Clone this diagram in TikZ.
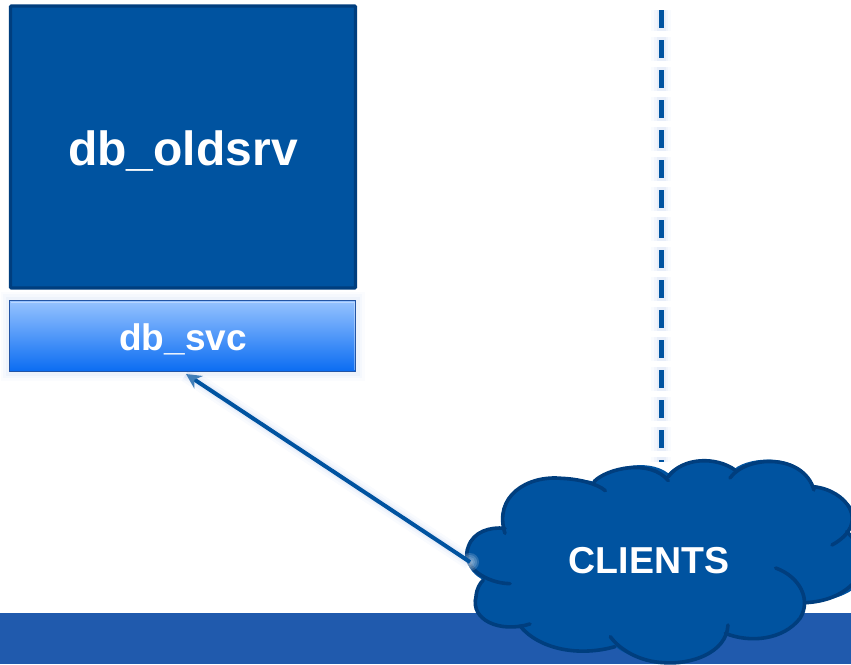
\documentclass[tikz,border=0pt]{standalone}
\usepackage{fontspec}
\setmainfont{Liberation Sans}
\usetikzlibrary{arrows.meta}
\definecolor{srvblue}{RGB}{0,83,160}
\definecolor{srvedge}{RGB}{0,62,126}
\definecolor{bandblue}{RGB}{32,90,173}
\definecolor{svctop}{RGB}{150,195,255}
\definecolor{svcmid}{RGB}{25,110,232}
\definecolor{svcbot}{RGB}{10,108,242}
\definecolor{svcedge}{RGB}{35,85,165}
\definecolor{halo}{RGB}{70,120,210}
\tikzset{
    lobe/.style={draw=srvedge,line width=3.6pt,line cap=round},
    label/.style={text=white,font=\bfseries},
    srvbox/.style={draw=srvedge,line width=3.2pt,fill=srvblue,rounded corners=1pt,inner sep=0pt},
    svcbox/.style={draw=svcedge,line width=1.3pt,top color=svctop,middle color=svcmid,bottom color=svcbot,inner sep=0pt}
}
\begin{document}
\begin{tikzpicture}[x=1pt,y=-1pt]
    \useasboundingbox (0,0) rectangle (851,664);
    \fill[bandblue] (0,613) rectangle (851,664);

    \node[srvbox,minimum width=345pt,minimum height=282pt] (oldsrv) at (183,147) {};
    \node[label,font=\bfseries\fontsize{48}{48}\selectfont] (oldsrvtext) at (183,151) {db\_oldsrv};

    % halo under the thin box
    \foreach \w/\o in {18/0.025,13/0.03,8/0.04}
        \draw[halo,line width=\w pt,opacity=\o] (9.5,300.5) rectangle (355.5,371.5);
    \node[svcbox,minimum width=346pt,minimum height=71pt] (svc) at (182.5,336) {};
    \draw[white,opacity=0.35,line width=1pt] (11,302) -- (354,302) -- (354,370);
    \node[label,font=\bfseries\fontsize{37}{37}\selectfont] (svctext) at (183,339) {db\_svc};

    \coordinate (septop) at (661,10);
    \coordinate (sepend) at (661,462);
    \coordinate (cloudleft) at (470,562);
    \coordinate (svctip) at (186,374);

    \foreach \w/\o in {20/0.03,14/0.04,9/0.06}
        \draw[halo,line width=\w pt,opacity=\o,dash pattern=on 24pt off 6pt,dash phase=3pt] (septop) -- (sepend);
    \draw[srvblue,line width=5pt,dash pattern=on 18pt off 12pt] (septop) -- (sepend);

    % the cloud, in crop coordinates
    \begin{scope}[shift={(450,440)},x=0.3333pt,y=-0.3333pt]
        \fill[srvblue] (160,265) .. controls (130,170) and (230,105) .. (335,115)
            .. controls (375,115) and (410,120) .. (432,125)
            .. controls (470,85) and (590,50) .. (655,100)
            .. controls (700,50) and (800,50) .. (852,88)
            .. controls (900,45) and (1060,40) .. (1090,140)
            .. controls (1190,150) and (1265,250) .. (1190,275)
            -- (1240,300) -- (1240,420)
            .. controls (1200,470) and (1130,485) .. (1068,488)
            .. controls (1050,570) and (920,625) .. (830,580)
            .. controls (790,650) and (700,680) .. (640,668)
            .. controls (580,665) and (530,645) .. (495,620)
            .. controls (400,650) and (280,640) .. (210,558)
            .. controls (140,575) and (60,540) .. (78,470)
            .. controls (80,445) and (90,430) .. (100,420)
            .. controls (50,395) and (30,340) .. (70,295)
            .. controls (90,270) and (130,260) .. (160,265) -- cycle;
        \draw[lobe] (165,280) .. controls (130,170) and (230,105) .. (335,115) .. controls (385,117) and (440,130) .. (466,152);
        \draw[lobe] (432,125) .. controls (470,85) and (600,55) .. (655,122);
        \draw[lobe] (655,110) .. controls (700,50) and (800,50) .. (855,90);
        \draw[lobe] (840,114) .. controls (890,45) and (1060,40) .. (1092,150);
        \draw[lobe] (1090,140) .. controls (1190,150) and (1265,250) .. (1146,315);
        \draw[lobe] (1190,275) .. controls (1230,310) and (1250,370) .. (1210,430) .. controls (1170,470) and (1120,485) .. (1068,488);
        \draw[lobe] (977,384) .. controls (1050,410) and (1085,480) .. (1050,535) .. controls (1000,600) and (900,610) .. (826,580);
        \draw[lobe] (834,555) .. controls (830,640) and (720,675) .. (640,668) .. controls (570,665) and (510,630) .. (481,590);
        \draw[lobe] (495,620) .. controls (390,650) and (270,630) .. (210,558);
        \draw[lobe] (240,552) .. controls (150,580) and (60,540) .. (78,470) .. controls (80,445) and (90,430) .. (100,420);
        \draw[lobe] (180,431) .. controls (110,430) and (30,380) .. (55,320) .. controls (70,275) and (120,260) .. (165,265);
    \end{scope}
    \node[label,font=\bfseries\fontsize{37.5}{37.5}\selectfont] (clients) at (649,561) {CLIENTS};

    \foreach \r in {9,7,5,3}
        \fill[white,opacity=0.16] (cloudleft) circle (\r pt);
    \foreach \w/\o in {16/0.03,11/0.04,7/0.06}
        \draw[halo,line width=\w pt,opacity=\o] (svctip) -- (cloudleft);
    \draw[srvblue,line width=4pt,-{Stealth[length=15pt,width=15pt,color=srvblue!75!white]}] (cloudleft) -- (svctip);
\end{tikzpicture}
\end{document}
